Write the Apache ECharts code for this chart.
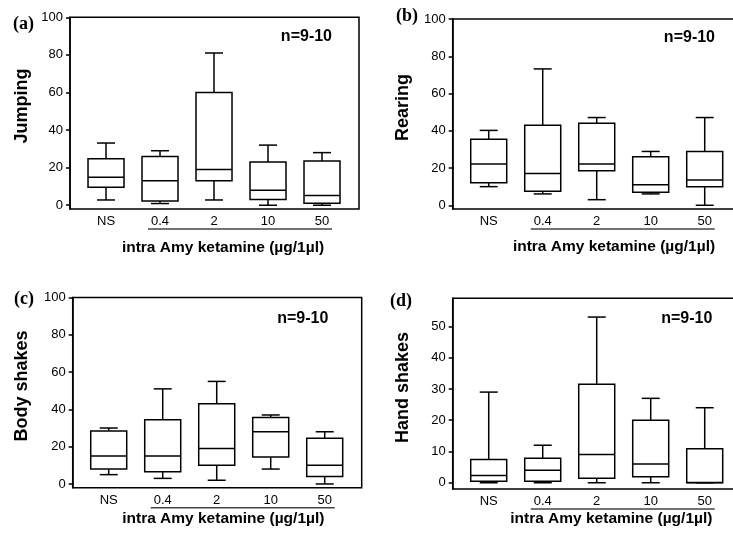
<!DOCTYPE html>
<html>
<head>
<meta charset="utf-8">
<script src="https://cdn.jsdelivr.net/npm/echarts@6/dist/echarts.min.js"></script>
<style>
  html, body { margin: 0; padding: 0; background: #fff; }
  #main { width: 733px; height: 536px; }
</style>
</head>
<body>
<div id="main"></div>
<script>
// categories on the x axis
var categories = ['NS', '0.4', '2', '10', '50'];

// [min, q1, median, q3, max] per dose
var jumping    = [[2.8, 9.6, 14.9, 24.7, 33.1], [0.9, 2.3, 13, 26, 29], [2.8, 13, 19, 60, 81], [0, 3, 8, 23, 32], [0, 1.1, 5.2, 23.5, 28]];
var rearing    = [[10, 12.1, 22.1, 35.5, 40.2], [6.1, 7.5, 17.1, 43, 73.2], [3, 18.6, 22.1, 44.1, 47.1], [6.1, 7, 11, 26, 28.9], [0, 10, 13.6, 28.9, 47.1]];
var bodyShakes = [[5, 8, 15, 28.4, 30], [3, 6.5, 15, 34.4, 51], [2, 10, 19, 43, 55], [8, 14.5, 28, 35.6, 37], [0, 4, 10, 24.5, 28]];
var handShakes = [[0, 0.5, 2.3, 7.4, 29], [0, 0.5, 4, 7.8, 12], [0, 1.4, 9, 31.5, 53], [0, 1.9, 6, 20, 27], [0, 0, 0.1, 10.9, 24]];

// tick labels
var ticks100 = [0, 20, 40, 60, 80, 100];
var ticks50 = [0, 10, 20, 30, 40, 50];

var FONT = '"Liberation Sans", Arial, sans-serif';
var panels = [
  { letter: '(a)', name: 'Jumping', data: jumping, ticks: ticks100, yMax: 100,
    grid: { left: 70, top: 17.3, width: 289, height: 191.7 },
    letterPos: [13, 24], nPos: [332, 37], yNamePos: [22, 106], xNamePos: [223, 248] },
  { letter: '(b)', name: 'Rearing', data: rearing, ticks: ticks100, yMax: 100,
    grid: { left: 452.7, top: 19, width: 289, height: 190 },
    letterPos: [396, 16], nPos: [715, 37.7], yNamePos: [403, 107.5], xNamePos: [614, 247] },
  { letter: '(c)', name: 'Body shakes', data: bodyShakes, ticks: ticks100, yMax: 100,
    grid: { left: 72.7, top: 297.5, width: 289, height: 190.2 },
    letterPos: [14, 299.5], nPos: [328.3, 319], yNamePos: [21.7, 386], xNamePos: [223.3, 518.3] },
  { letter: '(d)', name: 'Hand shakes', data: handShakes, ticks: ticks50, yMax: 59,
    grid: { left: 452.7, top: 298.3, width: 289, height: 190.7 },
    letterPos: [390, 301.7], nPos: [712.3, 319], yNamePos: [403.3, 387.5], xNamePos: [611.3, 518.3] }
];
var yMin = -2;
var boxWidth = 36 / 54;   // in category units
var lineStyle = { stroke: '#000', lineWidth: 1.5 };

function renderBox(params, api) {
  var x = api.value(0);
  var lo = api.coord([x, api.value(1)]);
  var q1 = api.coord([x, api.value(2)]);
  var md = api.coord([x, api.value(3)]);
  var q3 = api.coord([x, api.value(4)]);
  var hi = api.coord([x, api.value(5)]);
  var half = api.size([boxWidth, 0])[0] / 2;
  var cap = half / 2;
  var cx = lo[0];
  return {
    type: 'group',
    children: [
      { type: 'line', shape: { x1: cx, y1: lo[1], x2: cx, y2: q1[1] }, style: lineStyle },
      { type: 'line', shape: { x1: cx, y1: q3[1], x2: cx, y2: hi[1] }, style: lineStyle },
      { type: 'line', shape: { x1: cx - cap, y1: lo[1], x2: cx + cap, y2: lo[1] }, style: lineStyle },
      { type: 'line', shape: { x1: cx - cap, y1: hi[1], x2: cx + cap, y2: hi[1] }, style: lineStyle },
      { type: 'rect', shape: { x: cx - half, y: q3[1], width: half * 2, height: q1[1] - q3[1] },
        style: { fill: '#fff', stroke: '#000', lineWidth: 1.5 } },
      { type: 'line', shape: { x1: cx - half, y1: md[1], x2: cx + half, y2: md[1] }, style: lineStyle }
    ]
  };
}

// line under the dose labels (0.4 .. 50)
function renderUnderline(params, api) {
  var a = api.coord([api.value(0), yMin]);
  var b = api.coord([api.value(1), yMin]);
  return { type: 'line', shape: { x1: a[0] - 12, y1: a[1] + 20, x2: b[0] + 10, y2: b[1] + 20 },
    style: { stroke: '#444', lineWidth: 1.5 } };
}

var grids = [], xAxes = [], yAxes = [], series = [], graphics = [];
panels.forEach(function (p, i) {
  grids.push(Object.assign({ show: true, borderColor: '#000', borderWidth: 1.5, outerBoundsMode: 'none', containLabel: false }, p.grid));
  xAxes.push({
    type: 'value', gridIndex: i, min: 1 - 0.667, max: 5.685,
    axisLine: { show: false }, axisTick: { show: false }, splitLine: { show: false },
    axisLabel: {
      customValues: [1, 2, 3, 4, 5], margin: 6, fontSize: 13, fontFamily: FONT, color: '#000',
      formatter: function (v) { return categories[Math.round(v) - 1] || ''; }
    }
  });
  yAxes.push({
    type: 'value', gridIndex: i, min: yMin, max: p.yMax,
    axisLine: { show: true, lineStyle: { color: '#000', width: 1.5 } },
    axisTick: { show: true, inside: false, length: 4, customValues: p.ticks, lineStyle: { color: '#000', width: 1.5 } },
    splitLine: { show: false },
    axisLabel: { customValues: p.ticks, margin: 7, fontSize: 13, fontFamily: FONT, color: '#000' }
  });
  series.push({
    type: 'custom', xAxisIndex: i, yAxisIndex: i, clip: false,
    renderItem: renderBox,
    encode: { x: 0, y: [1, 2, 3, 4, 5] },
    data: p.data.map(function (b, k) { return [k + 1].concat(b); })
  });
  series.push({
    type: 'custom', xAxisIndex: i, yAxisIndex: i, clip: false,
    renderItem: renderUnderline, silent: true,
    encode: { x: [0, 1] },
    data: [[2, 5]]
  });
  graphics.push(
    { type: 'text', x: p.letterPos[0], y: p.letterPos[1],
      style: { text: p.letter, font: 'bold 18px "Liberation Serif", "Times New Roman", serif', fill: '#000',
        textAlign: 'left', textVerticalAlign: 'middle', align: 'left', verticalAlign: 'middle' } },
    { type: 'text', x: p.nPos[0], y: p.nPos[1],
      style: { text: 'n=9-10', font: 'bold 16px ' + FONT, fill: '#000',
        textAlign: 'right', textVerticalAlign: 'middle', align: 'right', verticalAlign: 'middle' } },
    { type: 'text', x: p.yNamePos[0], y: p.yNamePos[1], rotation: Math.PI / 2,
      style: { text: p.name, font: 'bold 18px ' + FONT, fill: '#000',
        textAlign: 'center', textVerticalAlign: 'middle', align: 'center', verticalAlign: 'middle' } },
    { type: 'text', x: p.xNamePos[0], y: p.xNamePos[1],
      style: { text: 'intra Amy ketamine (\u00b5g/1\u00b5l)', font: 'bold 15.5px ' + FONT, fill: '#000',
        textAlign: 'center', textVerticalAlign: 'middle', align: 'center', verticalAlign: 'middle' } }
  );
});

var myChart = echarts.init(document.getElementById('main'), null, { renderer: 'canvas' });
var option = {
  animation: false,
  backgroundColor: '#fff',
  grid: grids,
  xAxis: xAxes,
  yAxis: yAxes,
  series: series,
  graphic: graphics
};
option && myChart.setOption(option);
</script>
</body>
</html>
